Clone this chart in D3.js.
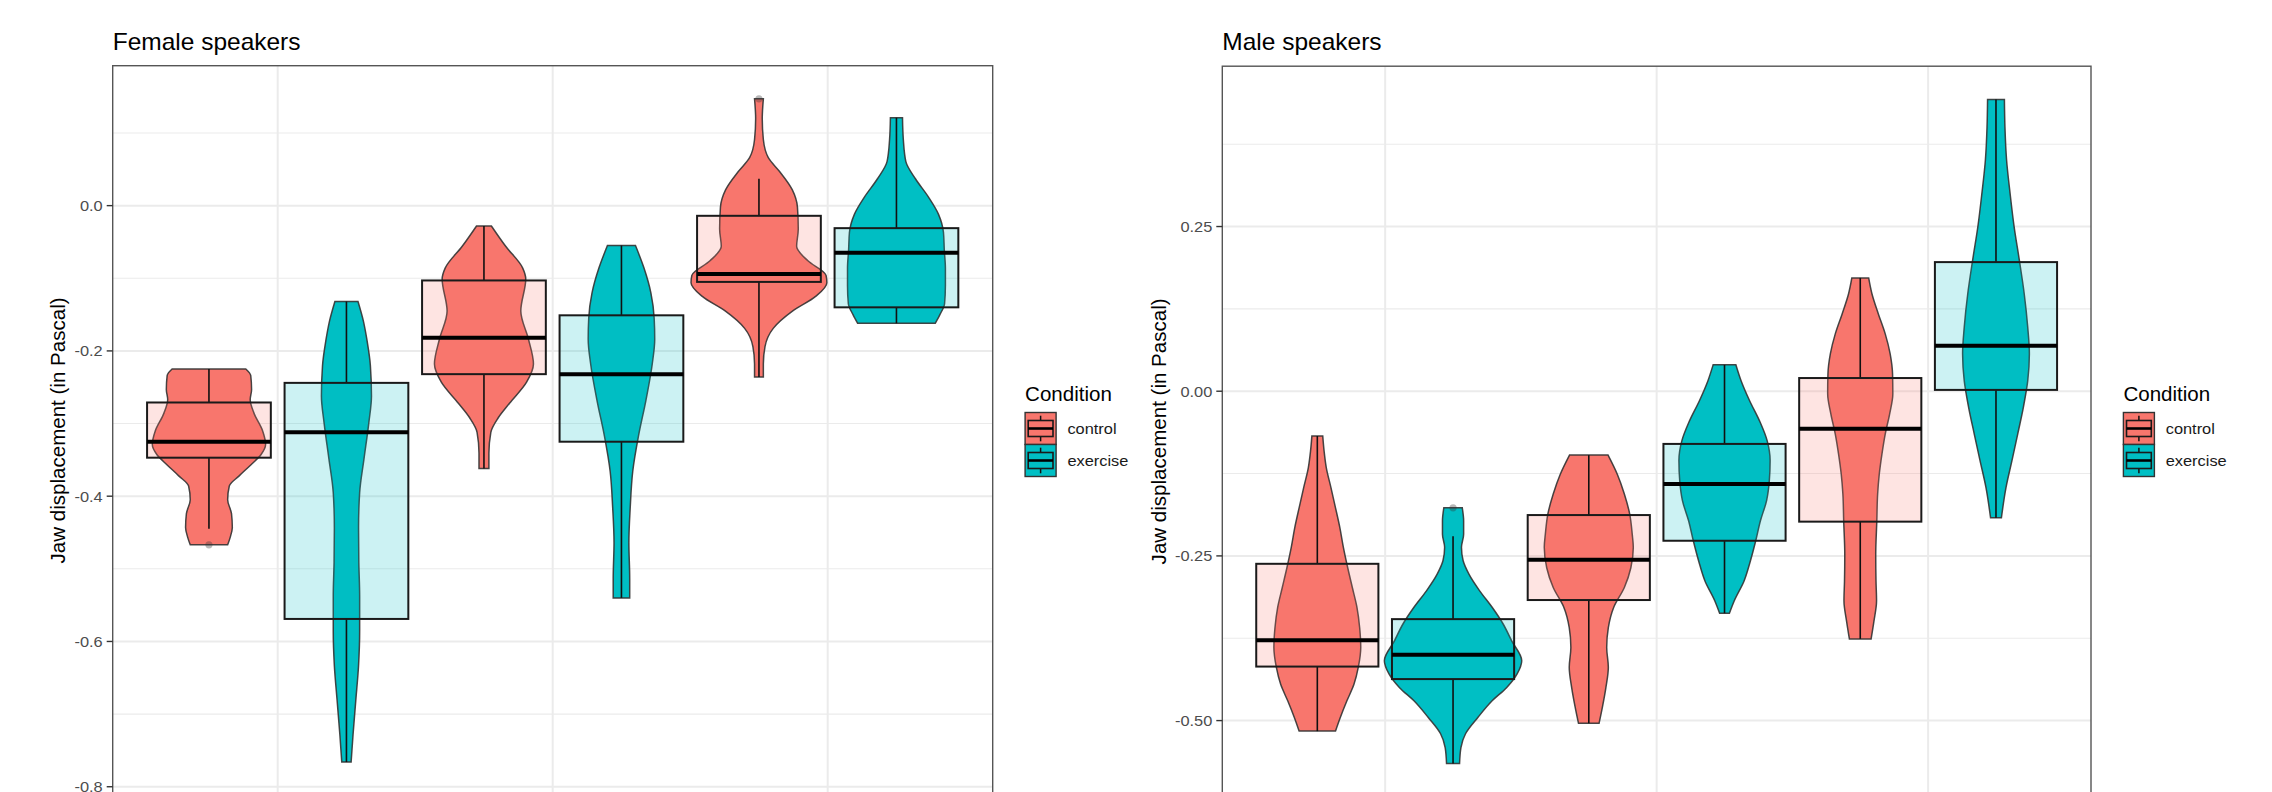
<!DOCTYPE html>
<html><head><meta charset="utf-8">
<script src="https://cdn.jsdelivr.net/npm/d3@7"></script>
<style>
body{margin:0;background:#fff;}
svg{display:block;}
text{font-family:"Liberation Sans", Arial, Helvetica, sans-serif;}
</style>
</head><body>
<svg id="chart" width="2272" height="792"></svg>
<script>
// ---------------- DATA ----------------
const panelTitles = ["Female speakers", "Male speakers"];
const categories = ["1", "2", "3"];
const conditions = ["control", "exercise"];
const conditionColors = ["#F8766D", "#00BFC4"];
const legendTitle = "Condition";
const yAxisTitle = "Jaw displacement (in Pascal)";

const femaleTicks = [0.0, -0.2, -0.4, -0.6, -0.8];
const femaleTickLabels = ["0.0", "-0.2", "-0.4", "-0.6", "-0.8"];
const femaleMinorTicks = [0.1, -0.1, -0.3, -0.5, -0.7];
const maleTicks = [0.25, 0.0, -0.25, -0.5];
const maleTickLabels = ["0.25", "0.00", "-0.25", "-0.50"];
const maleMinorTicks = [0.375, 0.125, -0.125, -0.375, -0.625];

// box statistics per category: [lower whisker, Q1, median, Q3, upper whisker]
const femaleControlBox = [[-0.445, -0.347, -0.325, -0.271, -0.225], [-0.362, -0.232, -0.182, -0.103, -0.028], [-0.236, -0.105, -0.094, -0.014, 0.037]];
const femaleExerciseBox = [[-0.766, -0.569, -0.312, -0.244, -0.132], [-0.540, -0.325, -0.232, -0.151, -0.055], [-0.162, -0.140, -0.065, -0.031, 0.121]];
const maleControlBox = [[-0.516, -0.418, -0.378, -0.262, -0.068], [-0.504, -0.317, -0.256, -0.188, -0.097], [-0.376, -0.198, -0.057, 0.020, 0.172]];
const maleExerciseBox = [[-0.565, -0.437, -0.400, -0.346, -0.220], [-0.337, -0.227, -0.141, -0.080, 0.040], [-0.192, 0.002, 0.069, 0.196, 0.443]];

// outliers per category
const femaleControlOutliers = [[-0.467], [], [0.147]];
const femaleExerciseOutliers = [[], [], []];
const maleControlOutliers = [[], [], []];
const maleExerciseOutliers = [[-0.177], [], []];

// violin density profiles per category: [value, density (half-width in category units)]
const femaleControlViolin = [
  [[-0.225,.134],[-0.234,.152],[-0.253,.155],[-0.267,.150],[-0.286,.164],[-0.310,.195],[-0.329,.206],[-0.343,.189],[-0.357,.152],[-0.372,.110],[-0.386,.074],[-0.405,.068],[-0.424,.082],[-0.443,.085],[-0.457,.077],[-0.467,.068]],
  [[-0.028,.027],[-0.056,.079],[-0.086,.141],[-0.101,.152],[-0.145,.134],[-0.184,.162],[-0.218,.180],[-0.243,.155],[-0.272,.093],[-0.292,.052],[-0.312,.025],[-0.341,.018],[-0.362,.018]],
  [[0.147,.016],[0.120,.012],[0.091,.016],[0.066,.034],[0.047,.075],[0.022,.121],[-0.002,.140],[-0.032,.143],[-0.056,.137],[-0.076,.178],[-0.096,.244],[-0.106,.247],[-0.125,.206],[-0.145,.123],[-0.169,.052],[-0.194,.022],[-0.218,.016],[-0.236,.016]]
];
const femaleExerciseViolin = [
  [[-0.132,.042],[-0.158,.061],[-0.186,.075],[-0.220,.087],[-0.262,.091],[-0.300,.081],[-0.348,.064],[-0.395,.048],[-0.443,.044],[-0.491,.045],[-0.538,.048],[-0.586,.048],[-0.633,.044],[-0.681,.034],[-0.728,.024],[-0.766,.017]],
  [[-0.055,.051],[-0.086,.082],[-0.120,.107],[-0.155,.119],[-0.184,.121],[-0.218,.112],[-0.268,.089],[-0.317,.062],[-0.366,.041],[-0.415,.032],[-0.464,.027],[-0.513,.030],[-0.540,.030]],
  [[0.121,.022],[0.091,.025],[0.061,.034],[0.037,.069],[0.012,.116],[-0.012,.153],[-0.037,.171],[-0.061,.174],[-0.086,.178],[-0.110,.178],[-0.135,.175],[-0.150,.158],[-0.162,.141]]
];
const maleControlViolin = [
  [[-0.068,.020],[-0.091,.025],[-0.116,.033],[-0.146,.050],[-0.177,.067],[-0.207,.083],[-0.237,.096],[-0.268,.112],[-0.298,.129],[-0.328,.146],[-0.359,.156],[-0.389,.160],[-0.419,.151],[-0.445,.135],[-0.470,.109],[-0.495,.085],[-0.516,.067]],
  [[-0.097,.071],[-0.126,.105],[-0.156,.131],[-0.187,.151],[-0.217,.160],[-0.237,.164],[-0.268,.155],[-0.298,.131],[-0.328,.092],[-0.359,.072],[-0.389,.066],[-0.419,.072],[-0.450,.063],[-0.480,.050],[-0.504,.038]],
  [[0.172,.031],[0.148,.043],[0.117,.067],[0.087,.092],[0.057,.110],[0.026,.119],[-0.004,.120],[-0.035,.108],[-0.065,.092],[-0.095,.080],[-0.126,.070],[-0.156,.064],[-0.197,.061],[-0.248,.057],[-0.288,.058],[-0.318,.060],[-0.350,.050],[-0.376,.040]]
];
const maleExerciseViolin = [
  [[-0.177,.034],[-0.197,.039],[-0.217,.039],[-0.237,.031],[-0.257,.037],[-0.278,.059],[-0.303,.098],[-0.328,.144],[-0.353,.184],[-0.379,.216],[-0.409,.253],[-0.429,.236],[-0.450,.197],[-0.470,.144],[-0.495,.092],[-0.520,.046],[-0.541,.029],[-0.565,.024]],
  [[0.040,.042],[0.016,.061],[-0.014,.092],[-0.045,.129],[-0.075,.157],[-0.105,.168],[-0.136,.165],[-0.166,.155],[-0.197,.132],[-0.227,.115],[-0.258,.095],[-0.288,.072],[-0.318,.036],[-0.337,.018]],
  [[0.443,.031],[0.401,.033],[0.351,.039],[0.300,.052],[0.249,.067],[0.199,.086],[0.148,.104],[0.097,.117],[0.057,.123],[0.016,.117],[-0.024,.101],[-0.065,.080],[-0.105,.059],[-0.146,.037],[-0.192,.020]]
];

// ---------------- LAYOUT / STYLE ----------------
const SX = 1.065; // glyph width factor
const svg = d3.select("#chart");
svg.append("rect").attr("width", 2272).attr("height", 792).attr("fill", "#fff");

const panels = [
  { title: panelTitles[0], x0: 112.7, x1: 992.7, y0: 65.7, y1: 795.2,
    ticks: femaleTicks, tickLabels: femaleTickLabels, minor: femaleMinorTicks,
    series: [
      { box: femaleControlBox, violin: femaleControlViolin, out: femaleControlOutliers },
      { box: femaleExerciseBox, violin: femaleExerciseViolin, out: femaleExerciseOutliers } ] },
  { title: panelTitles[1], x0: 1222.3, x1: 2091, y0: 66.2, y1: 796.6,
    ticks: maleTicks, tickLabels: maleTickLabels, minor: maleMinorTicks,
    series: [
      { box: maleControlBox, violin: maleControlViolin, out: maleControlOutliers },
      { box: maleExerciseBox, violin: maleExerciseViolin, out: maleExerciseOutliers } ] }
];

function addText(g, x, y, s, size, color, anchor, rotate) {
  return g.append("text")
    .attr("transform", `translate(${x},${y})${rotate ? ` rotate(${rotate})` : ""} scale(${SX},1)`)
    .attr("text-anchor", anchor || "start")
    .style("font-size", size + "px")
    .attr("fill", color)
    .text(s);
}

const dodge = [-0.25, 0.25];
const boxHalf = 0.225;

panels.forEach(p => {
  const g = svg.append("g");
  // data extent with 5% expansion
  let vals = [];
  p.series.forEach(s => {
    s.box.forEach(b => vals.push(...b));
    s.out.forEach(o => vals.push(...o));
    s.violin.forEach(v => v.forEach(d => vals.push(d[0])));
  });
  const [mn, mx] = d3.extent(vals);
  const pad = (mx - mn) * 0.05;
  const y = d3.scaleLinear().domain([mn - pad, mx + pad]).range([p.y1, p.y0]);
  const xPos = d3.scalePoint().domain(categories).range([1, 3]);
  const x = d3.scaleLinear().domain([0.4, 3.6]).range([p.x0, p.x1]);
  const xu = d => x(d) - x(0); // width in category units

  const clipId = "clip" + p.x0;
  svg.append("clipPath").attr("id", clipId).append("rect")
    .attr("x", p.x0).attr("y", p.y0).attr("width", p.x1 - p.x0).attr("height", p.y1 - p.y0);
  const pg = g.append("g").attr("clip-path", `url(#${clipId})`);

  // grid
  pg.selectAll(".minor").data(p.minor).enter().append("line")
    .attr("x1", p.x0).attr("x2", p.x1).attr("y1", d => y(d)).attr("y2", d => y(d))
    .attr("stroke", "#EBEBEB").attr("stroke-width", 1.1);
  pg.selectAll(".major").data(p.ticks).enter().append("line")
    .attr("x1", p.x0).attr("x2", p.x1).attr("y1", d => y(d)).attr("y2", d => y(d))
    .attr("stroke", "#EBEBEB").attr("stroke-width", 2);
  pg.selectAll(".vmajor").data(categories).enter().append("line")
    .attr("x1", d => x(xPos(d))).attr("x2", d => x(xPos(d))).attr("y1", p.y0).attr("y2", p.y1)
    .attr("stroke", "#EBEBEB").attr("stroke-width", 2);

  // groups
  categories.forEach((cat, ci) => {
    p.series.forEach((s, si) => {
      const cx = x(xPos(cat) + dodge[si]);
      const col = conditionColors[si];
      const prof = s.violin[ci];
      const area = d3.area()
        .y(d => y(d[0]))
        .x0(d => cx - xu(d[1]))
        .x1(d => cx + xu(d[1]))
        .curve(d3.curveMonotoneY);
      pg.append("path").attr("d", area(prof))
        .attr("fill", col).attr("stroke", "#333").attr("stroke-opacity", 0.9).attr("stroke-width", 1.5);

      const b = s.box[ci];
      const bx0 = x(xPos(cat) + dodge[si] - boxHalf), bx1 = x(xPos(cat) + dodge[si] + boxHalf);
      // whiskers
      pg.append("line").attr("x1", cx).attr("x2", cx).attr("y1", y(b[3])).attr("y2", y(b[4]))
        .attr("stroke", "#111").attr("stroke-width", 1.6);
      pg.append("line").attr("x1", cx).attr("x2", cx).attr("y1", y(b[1])).attr("y2", y(b[0]))
        .attr("stroke", "#111").attr("stroke-width", 1.6);
      // box
      pg.append("rect").attr("x", bx0).attr("width", bx1 - bx0)
        .attr("y", y(b[3])).attr("height", y(b[1]) - y(b[3]))
        .attr("fill", col).attr("fill-opacity", 0.2)
        .attr("stroke", "#1a1a1a").attr("stroke-width", 2);
      // median
      pg.append("line").attr("x1", bx0).attr("x2", bx1).attr("y1", y(b[2])).attr("y2", y(b[2]))
        .attr("stroke", "#000").attr("stroke-width", 4);
      // outliers
      s.out[ci].forEach(o => {
        pg.append("circle").attr("cx", cx).attr("cy", y(o)).attr("r", 3.6)
          .attr("fill", "#333").attr("fill-opacity", 0.35);
      });
    });
  });

  // border
  g.append("rect").attr("x", p.x0).attr("y", p.y0).attr("width", p.x1 - p.x0).attr("height", p.y1 - p.y0)
    .attr("fill", "none").attr("stroke", "#555").attr("stroke-width", 1.4);

  // y ticks + labels
  let maxW = 0;
  p.ticks.forEach((t, i) => {
    g.append("line").attr("x1", p.x0 - 6).attr("x2", p.x0).attr("y1", y(t)).attr("y2", y(t))
      .attr("stroke", "#333").attr("stroke-width", 1.4);
    const tx = addText(g, p.x0 - 10, y(t) + 5.5, p.tickLabels[i], 15.4, "#4D4D4D", "end");
    maxW = Math.max(maxW, tx.node().getComputedTextLength() * SX);
  });

  // y axis title
  addText(g, p.x0 - 10 - maxW - 9, (p.y0 + p.y1) / 2, yAxisTitle, 19.3, "#000", "middle", -90);

  // panel title
  addText(g, p.x0, 50, p.title, 23, "#000", "start");

  // legend
  const lx = p.x1 + 32.4;
  addText(g, lx, 400.7, legendTitle, 19.3, "#000", "start");
  const kw = 31, kh = 32, ky0 = 412.5;
  conditions.forEach((c, i) => {
    const ky = ky0 + i * kh;
    const col = conditionColors[i];
    g.append("rect").attr("x", lx).attr("y", ky).attr("width", kw).attr("height", kh)
      .attr("fill", col).attr("stroke", "#333").attr("stroke-width", 1.4);
    g.append("line").attr("x1", lx + kw / 2).attr("x2", lx + kw / 2).attr("y1", ky + kh * 0.1).attr("y2", ky + kh * 0.25)
      .attr("stroke", "#111").attr("stroke-width", 1.5);
    g.append("line").attr("x1", lx + kw / 2).attr("x2", lx + kw / 2).attr("y1", ky + kh * 0.75).attr("y2", ky + kh * 0.9)
      .attr("stroke", "#111").attr("stroke-width", 1.5);
    g.append("rect").attr("x", lx + kw * 0.1).attr("y", ky + kh * 0.25).attr("width", kw * 0.8).attr("height", kh * 0.5)
      .attr("fill", col).attr("fill-opacity", 0.2).attr("stroke", "#1a1a1a").attr("stroke-width", 1.6);
    g.append("line").attr("x1", lx + kw * 0.1).attr("x2", lx + kw * 0.9).attr("y1", ky + kh * 0.5).attr("y2", ky + kh * 0.5)
      .attr("stroke", "#000").attr("stroke-width", 2.6);
    addText(g, lx + 42.3, ky + kh / 2 + 5.5, c, 15.4, "#1a1a1a", "start");
  });
});
</script>
</body></html>
